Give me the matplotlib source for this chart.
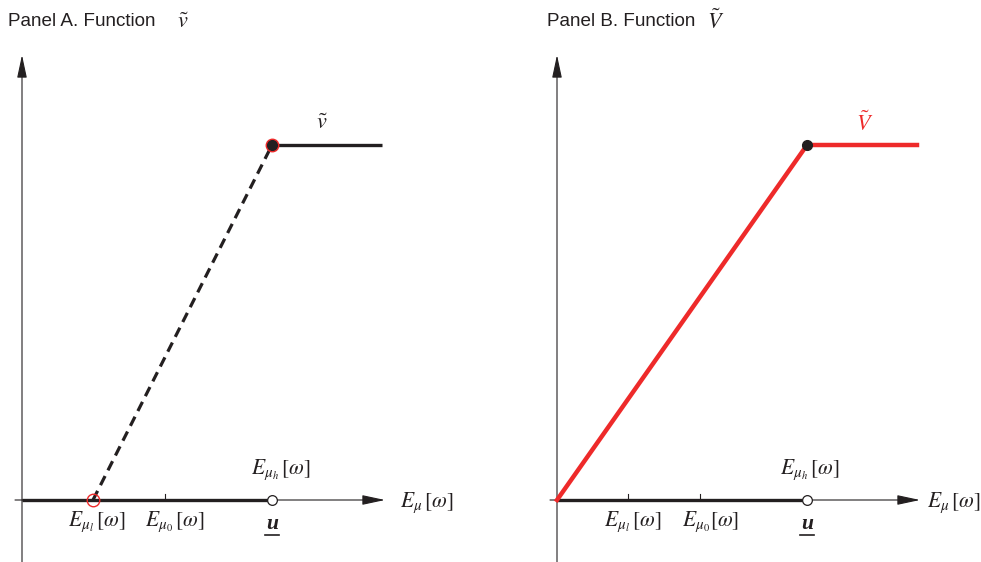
import matplotlib.pyplot as plt

plt.rcParams['mathtext.fontset'] = 'stix'

# key points on the horizontal axis (E_mu[omega])
e_low = 0.71
e_zero = 1.43
u_low = 2.5
x_end = 3.6
v_high = 3.55

# panel A: v-tilde is 0 up to u, jumps to v_high after
a_flat_x = [0, u_low]
a_flat_y = [0, 0]
a_dash_x = [e_low, u_low]
a_dash_y = [0, v_high]
a_top_x = [u_low, x_end]
a_top_y = [v_high, v_high]

# panel B: V-tilde rises linearly from 0 to u then flat
b_line_x = [0, u_low, x_end]
b_line_y = [0, v_high, v_high]

fig = plt.figure(figsize=(9.81, 5.62), dpi=100)
axA = fig.add_axes([0, 0, 490 / 981, 1])
axB = fig.add_axes([490 / 981, 0, 491 / 981, 1])
axA.set_xlim(-0.22, 4.68)
axB.set_xlim(-0.67, 4.24)
for ax in (axA, axB):
    ax.set_ylim(-0.62, 5.0)
    ax.axis('off')

ink = '#231f20'
red = '#ee2a2a'


def draw_axes(ax):
    # horizontal axis with arrow
    ax.annotate('', xy=(3.63, 0), xytext=(-0.07, 0),
                arrowprops=dict(arrowstyle='-|>,head_length=1.4,head_width=0.3',
                                lw=0.8, color=ink, shrinkA=0, shrinkB=0))
    # vertical axis with arrow
    ax.annotate('', xy=(0, 4.45), xytext=(0, -0.62),
                arrowprops=dict(arrowstyle='-|>,head_length=1.4,head_width=0.3',
                                lw=0.8, color=ink, shrinkA=0, shrinkB=0))


mt = dict(fontsize=15.5, color=ink)

# ---------- Panel A ----------
draw_axes(axA)
axA.plot(a_flat_x, a_flat_y, color=ink, lw=2.4, solid_capstyle='butt', zorder=3)
axA.plot(a_dash_x, a_dash_y, color=ink, lw=2.3, ls=(0, (3.2, 2)), zorder=3)
axA.plot(a_top_x, a_top_y, color=ink, lw=2.4, solid_capstyle='butt', zorder=3)
axA.plot([e_zero, e_zero], [0, 0.06], color=ink, lw=0.8)
axA.plot(e_low, 0, 'o', ms=9, mfc='none', mec=red, mew=1.0, zorder=5)
axA.plot(u_low, v_high, 'o', ms=9, mfc=ink, mec=red, mew=1.0, zorder=5)
axA.plot(u_low, 0, 'o', ms=7, mfc='white', mec=ink, mew=0.9, zorder=5)

axA.text(-0.14, 4.78, 'Panel A. Function', fontsize=13.6, family='Liberation Sans',
         va='center', ha='left', color=ink)
axA.text(1.55, 4.78, r'$\tilde{v}$', fontsize=16, va='center', ha='left', color=ink)
axA.text(0.75, -0.22, r'$E_{\mu_l}\,[\omega]$', ha='center', va='center', **mt)
axA.text(1.53, -0.22, r'$E_{\mu_0}\,[\omega]$', ha='center', va='center', **mt)
axA.text(2.59, 0.3, r'$E_{\mu_h}\,[\omega]$', ha='center', va='center', **mt)
axA.text(3.78, -0.03, r'$E_{\mu}\,[\omega]$', ha='left', va='center', **mt)
axA.text(3.0, 3.77, r'$\tilde{v}$', ha='center', va='center', fontsize=16, color=ink)
axA.text(u_low, -0.24, 'u', ha='center', va='center', fontsize=15.5,
         family='Liberation Serif', style='italic', weight='bold', color=ink)
axA.plot([u_low - 0.07, u_low + 0.07], [-0.35, -0.35], color=ink, lw=1.2)

# ---------- Panel B ----------
draw_axes(axB)
axB.plot(a_flat_x, a_flat_y, color=ink, lw=2.4, solid_capstyle='butt', zorder=3)
axB.plot(b_line_x, b_line_y, color=red, lw=3.2, solid_joinstyle='miter', zorder=4)
for xt in (e_low, e_zero):
    axB.plot([xt, xt], [0, 0.06], color=ink, lw=0.8)
axB.plot(u_low, v_high, 'o', ms=7, mfc=ink, mec=ink, zorder=5)
axB.plot(u_low, 0, 'o', ms=7, mfc='white', mec=ink, mew=0.9, zorder=5)

axB.text(-0.1, 4.78, 'Panel B. Function', fontsize=13.6, family='Liberation Sans',
         va='center', ha='left', color=ink)
axB.text(1.5, 4.79, r'$\tilde{V}$', fontsize=16, va='center', ha='left', color=ink)
axB.text(0.76, -0.22, r'$E_{\mu_l}\,[\omega]$', ha='center', va='center', **mt)
axB.text(1.54, -0.22, r'$E_{\mu_0}[\omega]$', ha='center', va='center', **mt)
axB.text(2.53, 0.3, r'$E_{\mu_h}\,[\omega]$', ha='center', va='center', **mt)
axB.text(3.7, -0.03, r'$E_{\mu}\,[\omega]$', ha='left', va='center', **mt)
axB.text(3.08, 3.77, r'$\tilde{V}$', ha='center', va='center', fontsize=16, color=red)
axB.text(u_low, -0.24, 'u', ha='center', va='center', fontsize=15.5,
         family='Liberation Serif', style='italic', weight='bold', color=ink)
axB.plot([u_low - 0.07, u_low + 0.07], [-0.35, -0.35], color=ink, lw=1.2)

fig.savefig('out.png', dpi=100)
